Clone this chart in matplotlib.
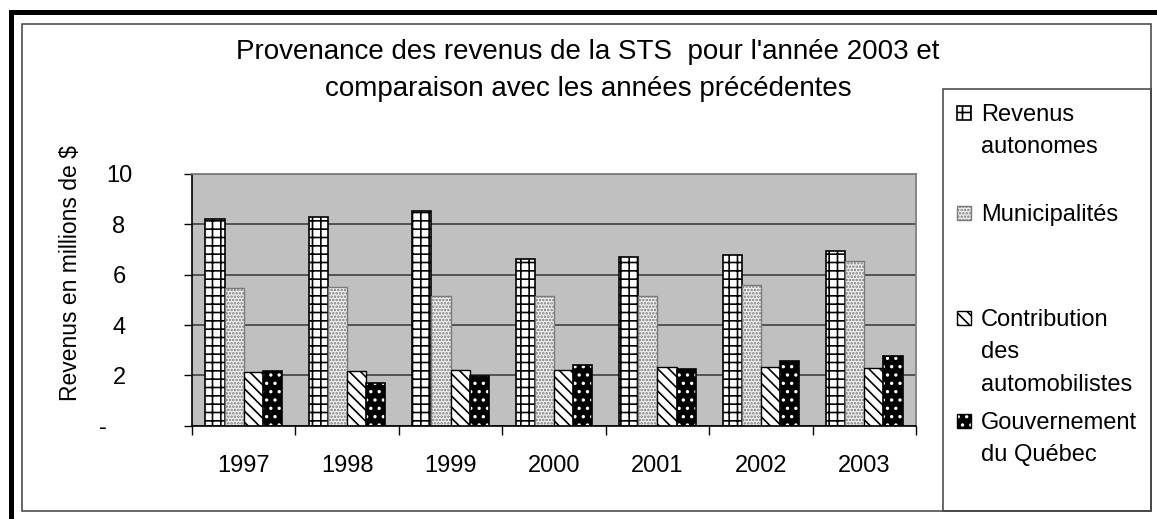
import numpy as np
import matplotlib
matplotlib.use('Agg')
import matplotlib.pyplot as plt
from matplotlib.patches import Rectangle

# data (millions de $)
years = ['1997', '1998', '1999', '2000', '2001', '2002', '2003']
revenus_autonomes = [8.2, 8.3, 8.53, 6.62, 6.71, 6.77, 6.95]
municipalites = [5.46, 5.5, 5.17, 5.17, 5.17, 5.59, 6.54]
contribution = [2.15, 2.17, 2.21, 2.21, 2.32, 2.32, 2.28]
gouvernement = [2.17, 1.68, 1.99, 2.41, 2.24, 2.57, 2.78]
labels = ['Revenus\nautonomes', 'Municipalités',
          'Contribution\ndes\nautomobilistes', 'Gouvernement\ndu Québec']
yticks = [0, 2, 4, 6, 8, 10]
ytick_labels = ['-     ', '2', '4', '6', '8', '10']

plt.rcParams['font.family'] = ['Liberation Sans', 'DejaVu Sans']
plt.rcParams['hatch.linewidth'] = 1.2

W, H = 1157, 519
fig = plt.figure(figsize=(W / 100, H / 100), dpi=100)


def fx(px):
    return px / W


def fy(py):
    return 1 - py / H


ax = fig.add_axes([fx(192), fy(425.7), fx(916) - fx(192), fy(174) - fy(425.7)])
ax.set_facecolor('#c0c0c0')

styles = [
    dict(facecolor='white', edgecolor='black', hatch='++', linewidth=1.2),
    dict(facecolor='#f0f0f0', edgecolor='#7a7a7a', hatch='.....', linewidth=1.0),
    dict(facecolor='white', edgecolor='black', hatch='\\\\\\', linewidth=1.0),
    dict(facecolor='black', edgecolor='white', hatch='..', linewidth=0),
]
series = [revenus_autonomes, municipalites, contribution, gouvernement]

x = np.arange(len(years))
w = 0.185
for i, (vals, st) in enumerate(zip(series, styles)):
    ax.bar(x + (i - 1.5) * w, vals, w, **st)
# black outline for the dark series (hatch is white)
ax.bar(x + 1.5 * w, gouvernement, w, fill=False, edgecolor='black', linewidth=1.2)

ax.set_xlim(-0.5, len(years) - 0.5)
ax.set_ylim(0, 10)
ax.set_axisbelow(True)
ax.yaxis.grid(True, color='#4a4a4a', linewidth=1.3)

ax.set_yticks(yticks)
ax.set_yticklabels(ytick_labels, ha='center')
ax.tick_params(axis='y', length=5.8, width=1, pad=46.8, labelsize=17)
ax.set_xticks(x)
ax.set_xticklabels(years)
ax.tick_params(axis='x', which='major', length=0, pad=21, labelsize=17)
ax.set_xticks(np.arange(-0.5, len(years), 1), minor=True)
ax.tick_params(axis='x', which='minor', length=6.5, width=1, direction='out')

for s in ['left', 'bottom']:
    ax.spines[s].set_color('black')
    ax.spines[s].set_linewidth(1.2)
for s in ['top', 'right']:
    ax.spines[s].set_color('#808080')
    ax.spines[s].set_linewidth(1.3)

ax.set_ylabel('Revenus en millions de $', fontsize=16.5, va='center')
ax.yaxis.set_label_coords(-0.1685, 0.607)

fig.text(fx(588), fy(39),
         "Provenance des revenus de la STS  pour l'année 2003 et\n"
         "comparaison avec les années précédentes",
         ha='center', va='top', fontsize=20, linespacing=1.55)

# frames
fig.add_artist(Rectangle((fx(10.5), -0.2), 1.5, fy(12.5) + 0.2, fill=False,
                         edgecolor='black', linewidth=3.6, transform=fig.transFigure))
fig.add_artist(Rectangle((fx(22), fy(511)), fx(1151) - fx(22), fy(24) - fy(511),
                         fill=False, edgecolor='#404040', linewidth=1.1,
                         transform=fig.transFigure))
fig.add_artist(Rectangle((fx(943), fy(511)), fx(1151) - fx(943), fy(89) - fy(511),
                         fill=False, edgecolor='#404040', linewidth=1.1,
                         transform=fig.transFigure))

# legend, laid out like the Excel one
leg_centers = [113, 213, 318, 421]
for lab, st, cy in zip(labels, styles, leg_centers):
    fig.add_artist(Rectangle((fx(957), fy(cy + 7)), 14 / W, 14 / H,
                             transform=fig.transFigure, **st))
    if st['linewidth'] == 0:
        fig.add_artist(Rectangle((fx(957), fy(cy + 7)), 14 / W, 14 / H, fill=False,
                                 edgecolor='black', linewidth=1.0,
                                 transform=fig.transFigure))
    fig.text(fx(981), fy(cy - 8.7), lab, ha='left', va='top',
             fontsize=17, linespacing=1.6)

fig.savefig('out.png', dpi=100)
